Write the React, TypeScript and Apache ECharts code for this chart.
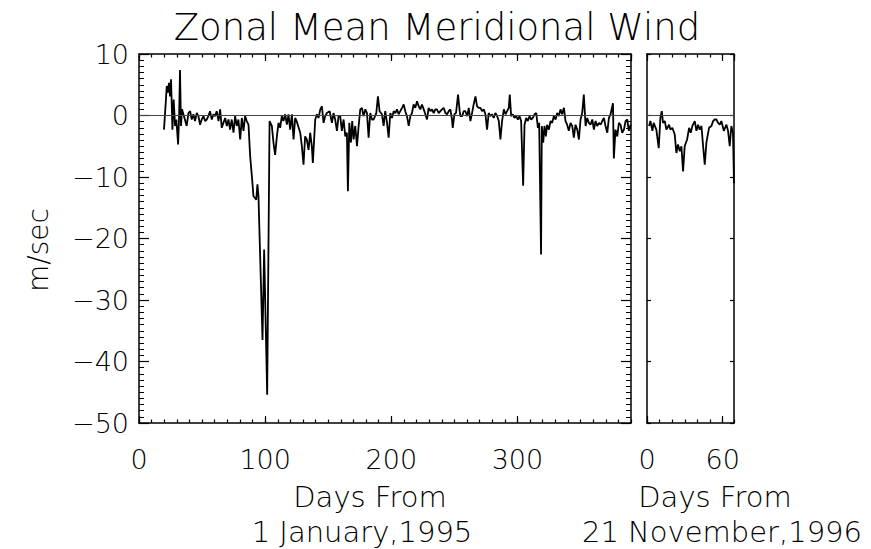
import React, { useEffect, useRef } from 'react';
import * as echarts from 'echarts';

const FONT = '"DejaVu Sans", "Liberation Sans", sans-serif';
const WEIGHT = 200;

// Panel 1: days from 1 January 1995
const daysMain = [
  19.8, 21.2, 22.0, 22.8, 23.8, 24.6, 25.4, 26.5, 27.5, 28.6, 29.6, 31.0, 31.8, 32.5, 33.3, 34.1,
  35.2, 37.8, 39.2, 40.5, 41.8, 43.1, 44.4, 45.8, 47.1, 48.4, 49.7, 51.1, 52.4, 53.7, 55.0, 56.3,
  57.7, 59.0, 60.3, 61.6, 63.0, 64.3, 65.6, 66.9, 68.3, 69.6, 70.9, 72.2, 73.5, 74.9, 76.2, 77.5,
  78.8, 80.2, 81.5, 82.8, 84.1, 85.4, 86.8, 88.1, 89.7, 90.7, 92.9, 93.9, 94.7, 97.9, 99.2, 101.6,
  103.5, 105.3, 106.6, 107.9, 109.3, 110.6, 111.9, 113.2, 114.5, 115.9, 117.2, 118.5, 119.8, 121.2,
  122.5, 123.8, 125.1, 127.8, 129.1, 130.4, 131.7, 133.0, 134.4, 135.7, 137.0, 137.8, 139.7, 141.0,
  142.3, 143.7, 145.0, 146.3, 147.6, 148.9, 151.1, 152.9, 154.2, 155.5, 156.9, 158.2, 159.5, 160.8,
  162.2, 163.5, 164.8, 165.6, 166.7, 168.0, 169.0, 170.1, 171.4, 172.8, 174.1, 175.4, 176.7, 178.0,
  179.4, 180.7, 182.0, 183.3, 184.7, 186.0, 188.1, 189.4, 190.7, 192.6, 193.9, 195.2, 196.6, 197.9,
  199.2, 200.5, 201.9, 203.2, 204.5, 205.8, 207.1, 208.5, 209.8, 211.1, 212.4, 213.8, 215.1, 216.4,
  217.7, 219.0, 220.4, 221.7, 223.0, 224.3, 225.7, 227.0, 228.3, 229.6, 231.0, 232.3, 233.6, 234.9,
  236.2, 237.6, 238.9, 240.2, 241.5, 242.9, 244.2, 245.5, 246.8, 248.1, 248.7, 250.0, 251.3, 252.9,
  254.2, 254.8, 256.1, 257.4, 258.7, 260.1, 261.4, 262.7, 264.0, 265.3, 266.7, 268.0, 269.3, 270.6,
  272.0, 273.3, 274.6, 275.9, 277.2, 278.6, 279.9, 281.2, 282.5, 283.9, 285.2, 286.5, 287.8, 289.2,
  290.5, 291.8, 293.1, 293.9, 295.0, 296.3, 297.6, 299.0, 300.3, 301.6, 302.9, 304.5, 305.6, 306.9,
  308.2, 309.6, 310.9, 312.2, 313.5, 314.9, 316.2, 317.2, 318.7, 319.3, 320.4, 321.4, 322.5, 323.5,
  324.9, 326.2, 327.5, 328.8, 330.2, 331.5, 332.8, 334.1, 335.4, 336.8, 338.1, 339.4, 340.7, 342.1,
  343.4, 344.7, 346.0, 347.4, 348.7, 350.0, 351.3, 352.6, 354.0, 355.3, 356.6, 357.9, 359.3, 360.6,
  361.9, 363.2, 364.6, 365.9, 367.2, 368.5, 369.8, 371.2, 372.5, 373.8, 375.7, 376.4, 377.7, 379.1,
  380.4, 381.7, 383.0, 384.4, 385.7, 387.0, 388.3, 389.7,
];
const windMain = [
  -2.3, 2.1, 4.8, 3.7, 5.3, 3.1, 5.9, -2.3, 2.6, -1.7, -0.65, -4.7, -0.1, 7.4, -1.7, 1.0,
  0.2, -1.7, 0.4, 0.7, -0.65, 0.2, -0.9, 0.4, -0.1, -1.5, -0.65, -0.1, -0.9, -0.65, -0.1, 0.7,
  -0.65, 0.2, -0.1, 0.7, -0.9, 1.0, -2.0, -1.2, -0.4, -1.7, -0.65, -2.3, -0.65, -2.8, -0.1, -1.7,
  -0.65, -3.9, -0.4, -2.5, -0.1, -0.9, -1.5, -6.6, -10.4, -13.1, -13.7, -11.2, -13.1, -36.5, -21.8, -45.4,
  -0.9, -1.7, -4.4, -6.4, -3.4, -1.2, -2.0, -0.1, -0.9, 0.2, -1.5, 0.2, -2.3, 0.2,
  -3.9, -0.4, -1.0, -2.8, -5.0, -8.0, -3.4, -3.9, -5.6, -2.8, -5.0, -7.7, -0.65, 0.2,
  -0.4, 1.0, 1.5, -1.2, -0.1, 0.4, 0.7, -1.2, 0.4, -0.65, -2.5, -0.1, -0.1, -2.5,
  -0.65, -3.4, -2.8, -12.3, -1.2, -4.4, -0.9, -3.9, -1.7, -5.0, -1.7, 1.0, 1.25, -0.1,
  1.0, 0.4, -3.6, 0.4, -0.65, -0.65, 0.4, 3.1, 0.7, 0.2, -1.7, 0.7, -1.2, -3.6,
  0.4, -0.4, 0.7, 0.4, 1.0, 0.2, 0.7, 1.25, 1.8, 0.7, -0.1, -1.7, -0.1, 0.4,
  1.8, 1.25, 2.3, 1.5, 1.0, 1.8, 1.0, 0.2, -0.65, 1.25, 0.7, 1.0, 0.4, 1.0,
  1.0, 0.4, 0.7, 1.0, 1.25, 0.4, 0.2, 0.7, 1.0, -0.65, -2.0, 0.2, 0.4, 3.4,
  0.7, -0.1, -0.1, 0.7, 0.7, -0.1, 1.25, -0.9, 0.4, 1.8, 3.1, 1.5, 1.25, 1.25,
  0.7, 1.0, 0.2, -2.3, 0.4, -0.1, 0.2, -0.4, 0.4, -0.1, -0.9, -3.9, -0.9, 1.0,
  0.2, 0.7, 1.25, 3.4, -0.1, 0.2, -0.4, -0.1, -0.65, -0.1, -0.9, -11.4, -1.5, -0.4,
  -0.9, -0.1, -0.65, -0.4, 0.2, 0.4, -2.0, -1.2, -22.6, -1.7, -4.4, -1.7, -3.4, -1.5,
  -2.3, -0.9, -1.2, -0.1, -0.65, 0.4, -0.1, 1.0, 0.2, 1.25, -0.9, -1.5, -2.5, -1.2,
  -1.7, -3.6, -1.5, -2.3, -3.9, -0.65, 0.4, 3.4, -1.7, -0.4, -1.2, -1.5, -0.65, -2.3,
  -0.9, -1.7, -1.2, -1.5, -0.9, -0.4, -1.7, -2.8, -0.4, 0.2, 2.0, -7.0, -2.3, -3.4,
  -1.2, -1.5, -2.8, -2.3, -0.9, -0.65, -2.5, -1.5,
];

// Panel 2: days from 21 November 1996
const daysNov = [
  1.6, 2.7, 4.3, 5.3, 7.4, 9.3, 10.6, 11.7, 12.7, 14.1, 15.4, 17.5, 18.5, 20.1, 22.0, 23.3,
  24.6, 26.0, 27.3, 28.6, 29.9, 31.8, 33.4, 34.7, 36.0, 37.9, 39.2, 40.5, 41.8, 43.2, 44.5, 45.8,
  47.1, 49.2, 51.1, 52.4, 53.7, 55.0, 56.4, 57.7, 59.0, 60.9, 63.0, 64.3, 65.6, 66.9, 68.2, 69.0,
];
const windNov = [
  -1.7, -0.9, -2.5, -1.2, -2.3, -5.3, -0.4, 0.7, -1.2, -0.9, -2.3, -1.5, -2.3, -2.0, -3.1, -6.1,
  -4.7, -5.8, -5.0, -9.1, -5.0, -3.9, -2.0, -2.8, -1.7, -0.9, -2.5, -1.5, -2.3, -1.7, -5.0, -8.0,
  -4.4, -2.0, -1.7, -0.9, -0.65, -0.65, -1.2, -1.5, -0.9, -2.5, -1.5, -2.5, -5.0, -1.7, -2.8, -11.0,
];

const TITLE = 'Zonal Mean Meridional Wind';
const Y_NAME = 'm/sec';
const X1_NAME = ['Days From', '1 January,1995'];
const X2_NAME = ['Days From', '21 November,1996'];

const LINE = { color: '#000', width: 1.5 };

function xAx(grid: number, pos: string, max: number, interval: number, tickLen: number, labels: boolean, lineShow: boolean) {
  return {
    type: 'value', gridIndex: grid, position: pos, min: 0, max, interval,
    axisLine: { show: lineShow, onZero: false, lineStyle: LINE },
    axisTick: { show: true, inside: true, length: tickLen, lineStyle: { color: '#000', width: 1.2 } },
    axisLabel: {
      show: labels, showMaxLabel: false, fontSize: 27, fontWeight: WEIGHT, color: '#000',
      fontFamily: FONT, margin: 23,
    },
    splitLine: { show: false },
  };
}

function yAx(grid: number, pos: string, labels: boolean, majorLen: number, minor: boolean) {
  return {
    type: 'value', gridIndex: grid, position: pos, min: -50, max: 10, interval: 10,
    axisLine: { show: true, onZero: false, lineStyle: LINE },
    axisTick: { show: true, inside: true, length: majorLen, lineStyle: { color: '#000', width: 1.2 } },
    minorTick: { show: minor, splitNumber: 10, length: 5, lineStyle: { color: '#000', width: 1 } },
    axisLabel: {
      show: labels, fontSize: 27, fontWeight: WEIGHT, color: '#000', fontFamily: FONT, margin: 10,
      formatter: (v: number) => (v < 0 ? '\u2212' + Math.abs(v) : String(v)),
    },
    splitLine: { show: false },
    minorSplitLine: { show: false },
  };
}

const zeroLine = {
  silent: true, symbol: 'none', label: { show: false },
  lineStyle: { color: '#444', width: 1, type: 'solid' },
  data: [{ yAxis: 0 }],
};

export default function App() {
  const ref = useRef<HTMLDivElement>(null);
  useEffect(() => {
    const chart = echarts.init(ref.current!, null, { renderer: 'svg' });
    const mainData = daysMain.map((d, i) => [d, windMain[i]]);
    const novData = daysNov.map((d, i) => [d, windNov[i]]);
    const txt = (text: string, x: number, y: number, size: number, rot = 0) => ({
      type: 'text', x, y, rotation: rot,
      style: {
        text, fontSize: size, fontWeight: WEIGHT, fontFamily: FONT, fill: '#000',
        align: 'center', verticalAlign: 'middle',
      },
    });
    chart.setOption({
      animation: false,
      backgroundColor: '#fff',
      grid: [
        { left: 139, top: 54, width: 492, height: 369 },
        { left: 647, top: 54, width: 87, height: 369 },
      ],
      xAxis: [
        xAx(0, 'bottom', 390, 100, 7, true, true),
        xAx(0, 'bottom', 390, 10, 3.5, false, false),
        xAx(0, 'top', 390, 100, 7, false, true),
        xAx(0, 'top', 390, 10, 3.5, false, false),
        xAx(1, 'bottom', 69, 60, 7, true, true),
        xAx(1, 'bottom', 69, 10, 3.5, false, false),
        xAx(1, 'top', 69, 60, 7, false, true),
        xAx(1, 'top', 69, 10, 3.5, false, false),
      ],
      yAxis: [
        yAx(0, 'left', true, 10, true),
        yAx(0, 'right', false, 10, true),
        yAx(1, 'left', false, 4, false),
        yAx(1, 'right', false, 4, false),
      ],
      series: [
        {
          type: 'line', xAxisIndex: 0, yAxisIndex: 0, data: mainData, showSymbol: false,
          lineStyle: { color: '#000', width: 1.8 }, markLine: zeroLine,
        },
        {
          type: 'line', xAxisIndex: 4, yAxisIndex: 2, data: novData, showSymbol: false,
          lineStyle: { color: '#000', width: 1.8 }, markLine: zeroLine,
        },
      ],
      graphic: [
        txt(TITLE, 437, 27, 37),
        txt(Y_NAME, 38, 250, 28, Math.PI / 2),
        txt(X1_NAME[0], 370, 497, 29),
        txt(X1_NAME[1], 362, 532, 29),
        txt(X2_NAME[0], 715, 497, 29),
        txt(X2_NAME[1], 722, 532, 29),
      ],
    });
    return () => chart.dispose();
  }, []);
  return (
    <div
      ref={ref}
      style={{ position: 'absolute', left: 0, top: 0, width: 871, height: 549, background: '#fff' }}
    />
  );
}
